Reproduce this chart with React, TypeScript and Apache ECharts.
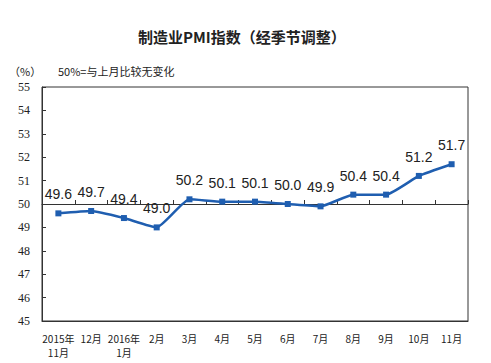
import React, { useEffect, useRef } from "react";
import * as echarts from "echarts";

const categories = [
  "2015年\n11月", "12月", "2016年\n1月", "2月", "3月", "4月", "5月",
  "6月", "7月", "8月", "9月", "10月", "11月",
];
const pmiValues = [49.6, 49.7, 49.4, 49.0, 50.2, 50.1, 50.1, 50.0, 49.9, 50.4, 50.4, 51.2, 51.7];
const yMin = 45;
const yMax = 55;
const baseline = 50;

export default function App() {
  const ref = useRef<HTMLDivElement>(null);
  useEffect(() => {
    if (!ref.current) return;
    const chart = echarts.init(ref.current, null, { renderer: "svg" });
    const gridTop = 87;
    const gridBottom = 42;
    const plotH = 363 - gridTop - gridBottom;
    const baseOffset = -((baseline - yMin) / (yMax - yMin)) * plotH;
    chart.setOption({
      animation: false,
      backgroundColor: "#ffffff",
      title: [
        {
          text: "制造业PMI指数（经季节调整）",
          left: 133,
          top: 24,
          textStyle: { fontFamily: "Noto Sans CJK SC", fontSize: 15, fontWeight: "bold", color: "#222" },
        },
        {
          text: "（%）",
          left: 4,
          top: 60,
          textStyle: { fontFamily: "Noto Sans CJK SC", fontSize: 11, fontWeight: "normal", color: "#222" },
        },
        {
          text: "50%=与上月比较无变化",
          left: 53,
          top: 60,
          textStyle: { fontFamily: "Noto Sans CJK SC", fontSize: 11, fontWeight: "normal", color: "#222" },
        },
      ],
      grid: {
        left: 42,
        right: 23,
        top: gridTop,
        bottom: gridBottom,
        show: true,
        borderColor: "#333",
        borderWidth: 1,
        backgroundColor: "transparent",
      },
      xAxis: [
        {
          type: "category",
          data: categories,
          boundaryGap: true,
          position: "bottom",
          axisLine: { show: true, lineStyle: { color: "#333", width: 1 } },
          axisTick: { show: false },
          axisLabel: {
            interval: 0,
            fontFamily: "Noto Sans CJK SC",
            fontSize: 10,
            color: "#222",
            lineHeight: 14,
            margin: 10,
          },
        },
        {
          type: "category",
          data: categories,
          boundaryGap: true,
          position: "bottom",
          offset: baseOffset,
          axisLine: { show: true, lineStyle: { color: "#333", width: 1 } },
          axisTick: { show: true, inside: true, length: 4, interval: 0, lineStyle: { color: "#333" } },
          axisLabel: { show: false },
        },
      ],
      yAxis: {
        type: "value",
        min: yMin,
        max: yMax,
        interval: 1,
        splitLine: { show: false },
        axisLine: { show: true, lineStyle: { color: "#333", width: 1 } },
        axisTick: { show: true, inside: true, length: 4, lineStyle: { color: "#333" } },
        axisLabel: {
          fontFamily: "Liberation Serif",
          fontSize: 12,
          color: "#222",
          margin: 12,
        },
      },
      series: [
        {
          type: "line",
          xAxisIndex: 0,
          data: pmiValues,
          smooth: 0.15,
          symbol: "rect",
          symbolSize: 6,
          itemStyle: { color: "#1f5eb0" },
          lineStyle: { color: "#1f5eb0", width: 2.5 },
          label: {
            show: true,
            position: "top",
            distance: 9,
            fontFamily: "Liberation Sans",
            fontSize: 14,
            color: "#222",
            formatter: (p: any) => Number(p.value).toFixed(1),
          },
        },
      ],
    });
    return () => chart.dispose();
  }, []);
  return <div ref={ref} style={{ width: 491, height: 363, position: "absolute", left: 0, top: 0 }} />;
}
